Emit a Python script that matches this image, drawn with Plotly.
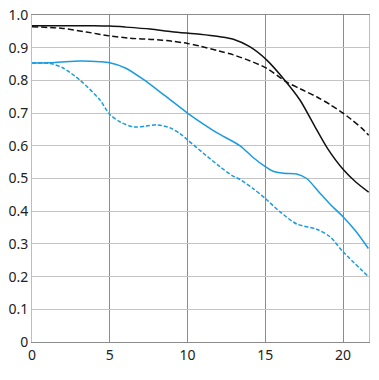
import plotly.graph_objects as go

# Black solid
bs_x = [0, 2, 4, 5, 6, 7.6, 9, 10.8, 12, 12.95, 14, 15.1, 16.33, 17.23, 18.2, 19, 20, 20.8, 21.65]
bs_y = [0.967, 0.967, 0.967, 0.966, 0.963, 0.957, 0.949, 0.941, 0.934, 0.926, 0.903, 0.862, 0.796, 0.74, 0.658, 0.592, 0.528, 0.49, 0.458]

# Black dashed
bd_x = [0, 2, 3.5, 5, 6.3, 7.8, 9, 10, 10.8, 12, 12.95, 14, 15.1, 16.33, 17.3, 18.3, 19.2, 20, 20.5, 21.2, 21.65]
bd_y = [0.964, 0.959, 0.948, 0.936, 0.929, 0.925, 0.92, 0.913, 0.905, 0.89, 0.878, 0.86, 0.837, 0.796, 0.773, 0.75, 0.725, 0.70, 0.682, 0.654, 0.632]

# Blue solid
us_x = [0, 1.5, 3.1, 4.37, 5, 6, 7.16, 8.5, 10, 11, 11.88, 13.38, 14.2, 15, 15.5, 16.16, 17.02, 17.66, 18.52, 19.2, 20, 20.8, 21.63]
us_y = [0.853, 0.855, 0.859, 0.857, 0.854, 0.838, 0.803, 0.755, 0.70, 0.667, 0.64, 0.60, 0.565, 0.536, 0.522, 0.516, 0.514, 0.50, 0.455, 0.42, 0.383, 0.34, 0.286]

# Blue dashed
ud_x = [0, 1.16, 2.0, 3.1, 4.37, 5, 5.7, 6.52, 7.3, 8.02, 8.87, 9.5, 10, 11, 12.09, 12.9, 13.38, 14.2, 15, 15.95, 17.02, 18.3, 19.16, 20, 21.63]
ud_y = [0.853, 0.852, 0.838, 0.80, 0.74, 0.696, 0.672, 0.658, 0.66, 0.664, 0.655, 0.638, 0.618, 0.578, 0.536, 0.508, 0.497, 0.47, 0.439, 0.398, 0.361, 0.345, 0.322, 0.276, 0.20]

x_ticks = [0, 5, 10, 15, 20]
y_ticks = [0, 0.1, 0.2, 0.3, 0.4, 0.5, 0.6, 0.7, 0.8, 0.9, 1.0]
y_labels = ["0", "0.1", "0.2", "0.3", "0.4", "0.5", "0.6", "0.7", "0.8", "0.9", "1.0"]

BLACK = "#111111"
BLUE = "#1a9be0"

fig = go.Figure()
fig.add_trace(go.Scatter(x=bd_x, y=bd_y, mode="lines", line=dict(color=BLACK, width=1.5, dash="6px,3px", shape="spline", smoothing=0.8)))
fig.add_trace(go.Scatter(x=bs_x, y=bs_y, mode="lines", line=dict(color=BLACK, width=1.5, shape="spline", smoothing=0.8)))
fig.add_trace(go.Scatter(x=ud_x, y=ud_y, mode="lines", line=dict(color=BLUE, width=1.5, dash="4px,2px", shape="spline", smoothing=0.8)))
fig.add_trace(go.Scatter(x=us_x, y=us_y, mode="lines", line=dict(color=BLUE, width=1.5, shape="spline", smoothing=0.8)))

fig.update_layout(
    width=379, height=380,
    margin=dict(l=32, r=10, t=15, b=38),
    plot_bgcolor="white", paper_bgcolor="white",
    showlegend=False,
    font=dict(family="Noto Sans", size=14, color="#222222"),
    xaxis=dict(range=[0, 21.67], tickvals=x_ticks, ticks="", showgrid=True,
               gridcolor="#8c8c8c", gridwidth=1, zeroline=False, automargin=False,
               showline=True, linecolor="#8c8c8c", linewidth=1, mirror=True),
    yaxis=dict(range=[0, 1.0], tickvals=y_ticks, ticktext=y_labels, ticks="",
               showgrid=True, gridcolor="#c4c4c4", gridwidth=1, zeroline=False, automargin=False,
               showline=True, linecolor="#bdbdbd", linewidth=1, mirror=True),
)

fig.write_html("out.html", config={"displayModeBar": False},
               post_script="document.body.style.margin='0';document.body.style.overflow='hidden';")
